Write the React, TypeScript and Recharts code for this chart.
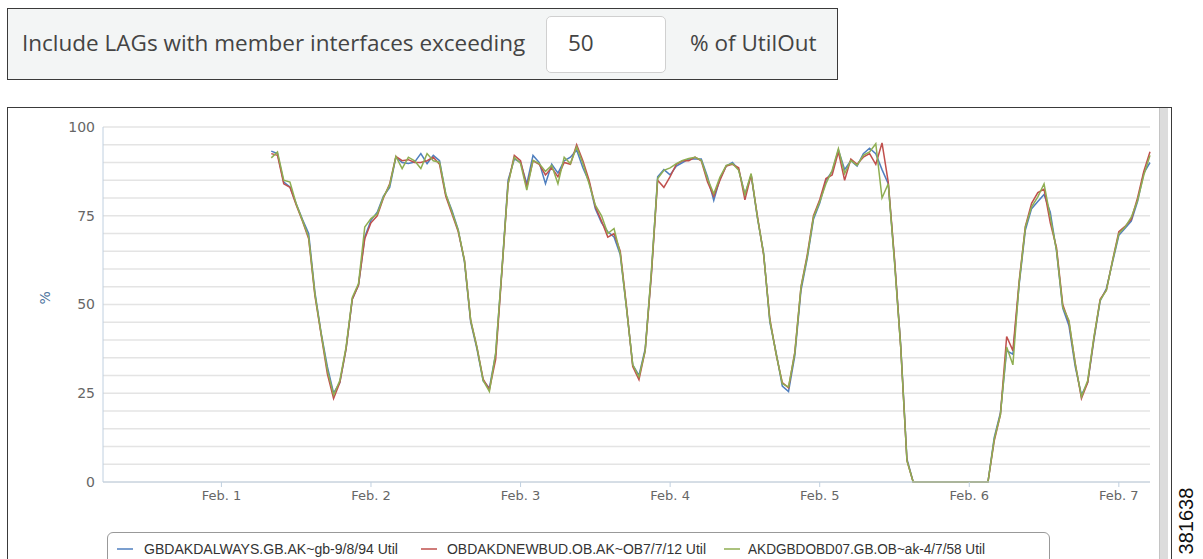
import { LineChart, Line, XAxis, YAxis, CartesianGrid, Label } from "recharts";

// hours counted from Feb. 1 00:00, one sample per hour
const hours = [
  8, 9, 10, 11, 12, 13, 14, 15, 16, 17,
  18, 19, 20, 21, 22, 23, 24, 25, 26, 27,
  28, 29, 30, 31, 32, 33, 34, 35, 36, 37,
  38, 39, 40, 41, 42, 43, 44, 45, 46, 47,
  48, 49, 50, 51, 52, 53, 54, 55, 56, 57,
  58, 59, 60, 61, 62, 63, 64, 65, 66, 67,
  68, 69, 70, 71, 72, 73, 74, 75, 76, 77,
  78, 79, 80, 81, 82, 83, 84, 85, 86, 87,
  88, 89, 90, 91, 92, 93, 94, 95, 96, 97,
  98, 99, 100, 101, 102, 103, 104, 105, 106, 107,
  108, 109, 110, 111, 112, 113, 114, 115, 116, 117,
  118, 119, 120, 121, 122, 123, 124, 125, 126, 127,
  128, 129, 130, 131, 132, 133, 134, 135, 136, 137,
  138, 139, 140, 141, 142, 143, 144, 145, 146, 147,
  148, 149,
];

const blueUtil = [
  93.2, 92.5, 84.5, 83.1, 78.4, 74.0, 70.0, 53.5, 42.0, 32.5,
  25.0, 28.0, 37.5, 51.5, 55.5, 69.0, 73.7, 76.0, 80.5, 83.0,
  91.5, 90.0, 89.7, 90.1, 92.5, 89.7, 92.0, 90.5, 81.0, 76.5,
  71.0, 62.0, 45.0, 37.5, 28.5, 26.5, 36.0, 59.5, 85.0, 91.0,
  90.0, 84.0, 92.0, 90.0, 84.0, 89.5, 87.0, 90.5, 91.5, 93.5,
  88.5, 84.5, 77.0, 73.0, 70.5, 69.0, 64.0, 49.0, 33.0, 30.0,
  37.5, 59.0, 86.0, 88.0, 86.5, 89.0, 90.0, 91.0, 91.0, 91.0,
  86.0, 79.3, 85.5, 89.0, 90.0, 88.0, 81.0, 86.5, 74.5, 64.5,
  45.0, 36.5, 27.0, 25.5, 35.5, 54.0, 63.0, 74.0, 78.5, 85.0,
  87.5, 93.5, 88.0, 90.5, 89.0, 92.5, 94.0, 92.5, 88.0, 84.0,
  62.5, 38.5, 6.5, 0, 0, 0, 0, 0, 0, 0,
  0, 0, 0, 0, 0, 0, 12.5, 19.5, 37.0, 36.0,
  55.5, 71.0, 77.0, 79.0, 81.0, 76.0, 65.0, 49.0, 44.0, 32.5,
  24.5, 28.0, 40.0, 51.0, 54.5, 62.0, 69.5, 71.5, 73.5, 79.0,
  87.0, 90.0,
];

const redUtil = [
  92.5, 92.0, 84.0, 83.0, 78.0, 73.5, 68.5, 52.5, 41.5, 30.5,
  23.5, 28.0, 37.5, 51.5, 55.5, 68.5, 73.0, 75.0, 80.0, 84.0,
  91.7, 90.5, 90.8, 90.0, 90.0, 90.5, 91.5, 89.5, 80.5, 75.5,
  70.5, 62.5, 45.5, 38.0, 29.0, 26.0, 34.5, 59.0, 84.0, 92.0,
  90.5, 83.0, 90.5, 89.5, 86.5, 88.5, 86.0, 90.0, 89.5, 95.0,
  90.5, 85.0, 77.5, 73.5, 69.0, 70.0, 65.0, 49.5, 32.5, 28.8,
  37.0, 58.5, 85.0, 83.0, 86.0, 89.5, 90.5, 90.5, 91.5, 90.5,
  84.5, 80.5, 85.0, 89.0, 89.5, 88.5, 79.5, 86.5, 75.0, 64.0,
  46.0, 36.0, 28.0, 26.5, 36.5, 55.0, 64.0, 75.0, 79.5, 85.5,
  86.5, 93.0, 85.0, 91.0, 89.5, 91.5, 92.5, 89.5, 95.5, 84.5,
  63.0, 38.0, 6.0, 0, 0, 0, 0, 0, 0, 0,
  0, 0, 0, 0, 0, 0, 11.5, 19.0, 41.0, 37.0,
  56.5, 72.0, 78.5, 81.5, 82.5, 73.0, 66.0, 50.0, 45.0, 33.5,
  23.5, 28.0, 40.5, 51.5, 54.0, 62.5, 70.5, 72.0, 74.0, 80.0,
  87.5, 93.0,
];

const greenUtil = [
  91.3, 93.0, 85.0, 84.5, 78.4, 73.7, 69.0, 53.0, 41.8, 31.5,
  24.5, 28.6, 38.0, 52.0, 55.9, 71.8, 74.2, 75.5, 80.3, 83.6,
  91.7, 88.3, 91.5, 90.5, 88.3, 92.5, 90.5, 90.1, 81.2, 76.0,
  70.9, 62.4, 45.5, 38.0, 28.6, 25.5, 36.2, 59.6, 84.0, 91.5,
  89.7, 82.2, 90.6, 89.7, 87.5, 89.2, 84.0, 91.5, 89.7, 94.4,
  89.7, 84.0, 78.0, 75.0, 70.0, 71.4, 64.3, 49.0, 33.0, 29.6,
  37.0, 59.6, 85.5, 87.8, 88.5, 89.7, 90.6, 91.1, 91.5, 90.6,
  85.4, 81.2, 85.9, 89.2, 89.7, 87.8, 81.0, 86.9, 74.6, 64.3,
  45.5, 36.2, 27.7, 26.8, 36.2, 54.9, 63.4, 74.6, 78.9, 84.0,
  87.8, 93.9, 86.9, 90.6, 89.2, 92.0, 93.0, 95.3, 80.0, 84.0,
  62.0, 38.0, 6.0, 0, 0, 0, 0, 0, 0, 0,
  0, 0, 0, 0, 0, 0, 12.0, 19.0, 38.0, 33.0,
  56.0, 71.8, 77.5, 80.3, 84.0, 74.6, 65.3, 49.3, 45.5, 33.3,
  24.0, 28.6, 40.8, 51.2, 54.0, 62.4, 70.0, 71.8, 74.6, 79.3,
  86.4, 92.0,
];

const seriesNames = [
  "GBDAKDALWAYS.GB.AK~gb-9/8/94 Util",
  "OBDAKDNEWBUD.OB.AK~OB7/7/12 Util",
  "AKDGBDOBD07.GB.OB~ak-4/7/58 Util",
];
const seriesColors = ["#4F7FBF", "#C0504D", "#8FAE52"];

const dayTicks = [0, 24, 48, 72, 96, 120, 144];
const dayLabels = ["Feb. 1", "Feb. 2", "Feb. 3", "Feb. 4", "Feb. 5", "Feb. 6", "Feb. 7"];
const pctTicks = [0, 5, 10, 15, 20, 25, 30, 35, 40, 45, 50, 55, 60, 65, 70, 75, 80, 85, 90, 95, 100];

const data = hours.map((h, i) => ({
  h,
  a: blueUtil[i],
  b: redUtil[i],
  c: greenUtil[i],
}));

const axisFont = { fontFamily: "DejaVu Sans", fill: "#666" };

export default function App() {
  return (
    <div style={{ position: "absolute", left: 0, top: 0, width: 1203, height: 559, overflow: "hidden", background: "#fff" }}>
      {/* filter box */}
      <div
        style={{
          position: "absolute", left: 7, top: 8, width: 831, height: 72, boxSizing: "border-box",
          border: "1.5px solid #3a3a3a", background: "#f3f5f5",
          fontFamily: "'Open Sans'", fontSize: 22.5, color: "#444", lineHeight: "30px",
        }}
      >
        <span style={{ position: "absolute", left: 14, top: 19 }}>Include LAGs with member interfaces exceeding</span>
        <div
          style={{
            position: "absolute", left: 538, top: 7, width: 120, height: 57, boxSizing: "border-box",
            background: "#fff", border: "1px solid #d0d0d0", borderRadius: 5,
          }}
        >
          <span style={{ position: "absolute", left: 21, top: 11 }}>50</span>
        </div>
        <span style={{ position: "absolute", left: 682, top: 19 }}>% of UtilOut</span>
      </div>

      {/* chart frame */}
      <div
        style={{
          position: "absolute", left: 7, top: 107, width: 1165, height: 470, boxSizing: "border-box",
          border: "1.5px solid #3a3a3a", background: "#fff",
        }}
      >
        <div style={{ position: "absolute", left: 1151, top: 0, width: 8, height: 470, background: "#dcdcdc", borderLeft: "1px solid #c4c4c4" }} />
      </div>

      <div style={{ position: "absolute", left: 0, top: 100 }}>
        <LineChart width={1160} height={459} data={data} margin={{ top: 27, right: 10, bottom: 47, left: 43 }}>
          <CartesianGrid vertical={false} stroke="#e4e4e4" strokeWidth={1.5} />
          <XAxis
            dataKey="h"
            type="number"
            domain={[-19, 149]}
            ticks={dayTicks}
            interval={0}
            tickFormatter={(v: number) => dayLabels[dayTicks.indexOf(v)]}
            tick={{ ...axisFont, fontSize: 13 }}
            tickSize={5}
            tickMargin={4}
            axisLine={{ stroke: "#C0D0E0" }}
            tickLine={{ stroke: "#C0D0E0" }}
            height={30}
          />
          <YAxis
            type="number"
            domain={[0, 100]}
            ticks={pctTicks}
            interval={0}
            tickFormatter={(v: number) => (v % 25 === 0 ? String(v) : "")}
            tick={{ ...axisFont, fontSize: 14 }}
            tickLine={false}
            axisLine={{ stroke: "#C0D0E0" }}
            width={60}
          >
            <Label value="%" angle={-90} position="insideLeft" offset={2} style={{ fontFamily: "DejaVu Sans", fontSize: 14, fill: "#4d759e" }} />
          </YAxis>
          <Line dataKey="a" stroke={seriesColors[0]} strokeWidth={1.5} dot={false} isAnimationActive={false} />
          <Line dataKey="b" stroke={seriesColors[1]} strokeWidth={1.5} dot={false} isAnimationActive={false} />
          <Line dataKey="c" stroke={seriesColors[2]} strokeWidth={1.5} dot={false} isAnimationActive={false} />
        </LineChart>
      </div>

      {/* legend */}
      <div
        style={{
          position: "absolute", left: 107, top: 532, width: 943, height: 40, boxSizing: "border-box",
          border: "1px solid #999", borderRadius: 6, background: "#fff",
        }}
      />
      <svg style={{ position: "absolute", left: 0, top: 530 }} width={1100} height={29}>
        {[
          { x1: 117, tx: 144, w: 254 },
          { x1: 421, tx: 447, w: 259 },
          { x1: 724, tx: 748, w: 237 },
        ].map((p, i) => (
          <g key={i}>
            <line x1={p.x1} x2={p.x1 + 16} y1={19} y2={19} stroke={seriesColors[i]} strokeWidth={2} opacity={0.75} />
            <text x={p.tx} y={24} textLength={p.w} lengthAdjust="spacingAndGlyphs"
              style={{ fontFamily: "'Liberation Sans'", fontSize: 14, fill: "#333" }}>
              {seriesNames[i]}
            </text>
          </g>
        ))}
      </svg>

      {/* figure id */}
      <div
        style={{
          position: "absolute", left: 1186, top: 521, transform: "translate(-50%, -50%) rotate(-90deg)",
          fontFamily: "'Liberation Sans'", fontSize: 20, color: "#111", whiteSpace: "nowrap",
        }}
      >
        381638
      </div>
    </div>
  );
}
